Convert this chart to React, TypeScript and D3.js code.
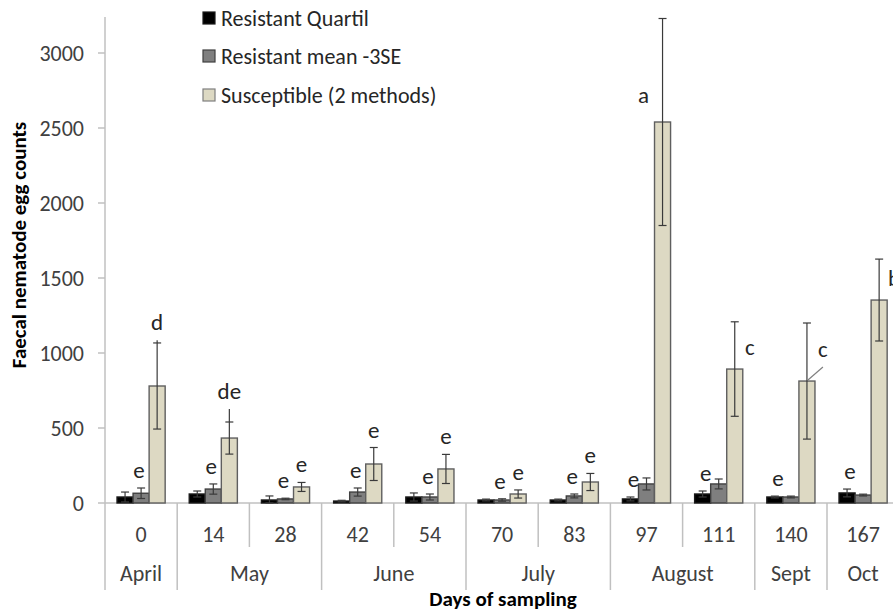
import * as d3 from "d3";
import { useEffect, useRef } from "react";

// sampling days and the months they fall in
const days = ["0", "14", "28", "42", "54", "70", "83", "97", "111", "140", "167"];
const monthNames = ["April", "May", "June", "July", "August", "Sept", "Oct"];
const monthSpans = [1, 2, 2, 2, 2, 1, 1];

const seriesNames = ["Resistant Quartil", "Resistant mean -3SE", "Susceptible (2 methods)"];

// faecal egg counts
const resQuartil = [40, 60, 20, 13, 40, 20, 20, 27, 60, 40, 67];
const resQuartilErr = [33, 20, 27, 5, 27, 6, 6, 13, 20, 6, 26];
const resMean = [65, 93, 27, 73, 40, 20, 47, 127, 127, 40, 53];
const resMeanErr = [35, 34, 5, 27, 20, 8, 13, 40, 33, 6, 6];
const susc = [780, 433, 107, 260, 227, 60, 140, 2540, 893, 813, 1353];
const suscErr = [287, 107, 30, 110, 97, 27, 57, 690, 315, 387, 273];
const suscWhisker = [1085, 627, null, null, null, null, null, null, null, null, null];

// significance letters
const leftLetters = ["e", "e", "e", "e", "e", "e", "e", "e", "e", "e", "e"];
const rightLetters = ["d", "de", "e", "e", "e", "e", "e", "a", "c", "c", "b"];

const yTicks = [0, 500, 1000, 1500, 2000, 2500, 3000];

const App = () => {
  const ref = useRef<HTMLDivElement>(null);

  useEffect(() => {
    document.body.style.margin = "0";
    d3.select(ref.current).select("svg").remove();

    const W = 893, H = 612;
    const font = "Carlito, 'Open Sans', sans-serif";
    const left = 105, baseY = 503, topY = 17, step = 72.2;

    const svg = d3
      .select(ref.current)
      .append("svg")
      .attr("width", W)
      .attr("height", H)
      .style("display", "block")
      .style("background", "#fff");

    const x = d3.scaleBand().domain(days).range([left, left + step * days.length]).padding(0);
    const xs = d3.scaleBand().domain(["0", "1", "2"]).range([0, x.bandwidth()]).paddingInner(0).paddingOuter(0.75);
    const y = d3.scaleLinear().domain([0, 3240]).range([baseY, topY]);

    const axisCol = "#c0c0c0";

    // y axis
    svg.append("line").attr("x1", left).attr("x2", left).attr("y1", topY).attr("y2", 590)
      .attr("stroke", axisCol).attr("stroke-width", 1.5);
    svg.selectAll(".ytick").data(yTicks).join("line")
      .attr("x1", left - 7).attr("x2", left)
      .attr("y1", (d) => y(d)).attr("y2", (d) => y(d))
      .attr("stroke", axisCol).attr("stroke-width", 1.5);
    svg.selectAll(".ylab").data(yTicks).join("text")
      .attr("x", 84).attr("y", (d) => y(d))
      .attr("text-anchor", "end").attr("dominant-baseline", "central")
      .attr("font-family", font).attr("font-size", 22).attr("fill", "#404040")
      .text((d) => d);

    // x axis baseline
    svg.append("line").attr("x1", left).attr("x2", W).attr("y1", baseY).attr("y2", baseY)
      .attr("stroke", axisCol).attr("stroke-width", 1.5);

    // month boundaries (long) and day boundaries (short)
    const monthStart: number[] = [];
    let acc = 0;
    monthSpans.forEach((n) => { monthStart.push(acc); acc += n; });
    const isMonthEdge = (i: number) => monthStart.includes(i);
    d3.range(1, days.length + 1).forEach((i) => {
      const px = left + step * i;
      svg.append("line").attr("x1", px).attr("x2", px).attr("y1", baseY)
        .attr("y2", isMonthEdge(i) || i === days.length ? 590 : 547)
        .attr("stroke", axisCol).attr("stroke-width", 1.5);
    });

    svg.selectAll(".dlab").data(days).join("text")
      .attr("x", (d) => x(d)! + x.bandwidth() / 2).attr("y", 534)
      .attr("text-anchor", "middle").attr("dominant-baseline", "central")
      .attr("font-family", font).attr("font-size", 22).attr("fill", "#404040")
      .text((d) => d);

    svg.selectAll(".mlab").data(monthNames).join("text")
      .attr("x", (d, i) => left + step * (monthStart[i] + monthSpans[i] / 2))
      .attr("y", 581)
      .attr("text-anchor", "middle")
      .attr("font-family", font).attr("font-size", 22).attr("fill", "#404040")
      .text((d) => d);

    // bars
    const series = [
      { vals: resQuartil, err: resQuartilErr, fill: "#000000", stroke: "#1a1a1a" },
      { vals: resMean, err: resMeanErr, fill: "#7f7f7f", stroke: "#404040" },
      { vals: susc, err: suscErr, fill: "#ddd9c3", stroke: "#5f5f5f" },
    ];
    const bx = (s: number, i: number) => x(days[i])! + xs(String(s))!;
    const bw = xs.bandwidth();

    series.forEach((s, si) => {
      svg.append("g").selectAll("rect").data(s.vals).join("rect")
        .attr("x", (d, i) => bx(si, i))
        .attr("y", (d) => y(d))
        .attr("width", bw)
        .attr("height", (d) => baseY - y(d))
        .attr("fill", s.fill)
        .attr("stroke", s.stroke)
        .attr("stroke-width", 1.4);
    });

    // error bars
    const errCol = "#3a3a3a";
    series.forEach((s, si) => {
      s.vals.forEach((v, i) => {
        const cx = bx(si, i) + bw / 2;
        const hi = v + s.err[i];
        const lo = Math.max(0, v - s.err[i]);
        const top = si === 2 && suscWhisker[i] != null ? suscWhisker[i]! : hi;
        const g = svg.append("g").attr("stroke", errCol).attr("stroke-width", 1.2);
        g.append("line").attr("x1", cx).attr("x2", cx).attr("y1", y(lo)).attr("y2", y(top));
        g.append("line").attr("x1", cx - 4).attr("x2", cx + 4).attr("y1", y(hi)).attr("y2", y(hi));
        g.append("line").attr("x1", cx - 4).attr("x2", cx + 4).attr("y1", y(lo)).attr("y2", y(lo));
      });
    });

    // letters
    const letterFont = { family: font, size: 23, fill: "#262626" };
    leftLetters.forEach((t, i) => {
      const anchor = i < 7 ? 1 : 0;
      const s = series[anchor];
      const cx = bx(anchor, i) + bw / 2 + (anchor === 0 ? 3 : -2);
      svg.append("text")
        .attr("x", cx).attr("y", y(s.vals[i] + s.err[i]) - 10)
        .attr("text-anchor", "middle")
        .attr("font-family", letterFont.family).attr("font-size", letterFont.size).attr("fill", letterFont.fill)
        .text(t);
    });

    const rightMode = ["above", "above", "above", "above", "above", "above", "above", "left", "right", "leader", "right"];
    rightLetters.forEach((t, i) => {
      const cx = bx(2, i) + bw / 2;
      const top = y(susc[i]);
      const errTop = y(suscWhisker[i] ?? susc[i] + suscErr[i]);
      let lx = cx, ly = errTop - 10;
      if (rightMode[i] === "left") { lx = cx - 19; ly = top - 19; }
      if (rightMode[i] === "right") { lx = cx + 15; ly = top - 14; }
      if (rightMode[i] === "leader") {
        lx = cx + 16; ly = top - 24;
        svg.append("line").attr("x1", cx + 1).attr("y1", top - 1).attr("x2", cx + 16).attr("y2", top - 14)
          .attr("stroke", "#808080").attr("stroke-width", 1.2);
      }
      svg.append("text")
        .attr("x", lx).attr("y", ly)
        .attr("text-anchor", "middle")
        .attr("font-family", letterFont.family).attr("font-size", letterFont.size).attr("fill", letterFont.fill)
        .text(t);
    });

    // legend
    const legFill = ["#000000", "#7f7f7f", "#ddd9c3"];
    const legStroke = ["#1a1a1a", "#404040", "#7f7f7f"];
    const legY = [18, 56, 95];
    seriesNames.forEach((name, i) => {
      svg.append("rect").attr("x", 203).attr("y", legY[i] - 6).attr("width", 12).attr("height", 12)
        .attr("fill", legFill[i]).attr("stroke", legStroke[i]).attr("stroke-width", 1.2);
      svg.append("text").attr("x", 221).attr("y", legY[i])
        .attr("dominant-baseline", "central")
        .attr("font-family", font).attr("font-size", 22).attr("fill", "#262626")
        .text(name);
    });

    // axis titles
    svg.append("text")
      .attr("transform", `translate(19,245) rotate(-90)`)
      .attr("text-anchor", "middle").attr("dominant-baseline", "central")
      .attr("font-family", font).attr("font-size", 21).attr("font-weight", "bold").attr("fill", "#000")
      .text("Faecal nematode egg counts");
    svg.append("text")
      .attr("x", 503).attr("y", 606)
      .attr("text-anchor", "middle")
      .attr("font-family", font).attr("font-size", 21).attr("font-weight", "bold").attr("fill", "#000")
      .text("Days of sampling");
  }, []);

  return <div ref={ref} />;
};

export default App;
